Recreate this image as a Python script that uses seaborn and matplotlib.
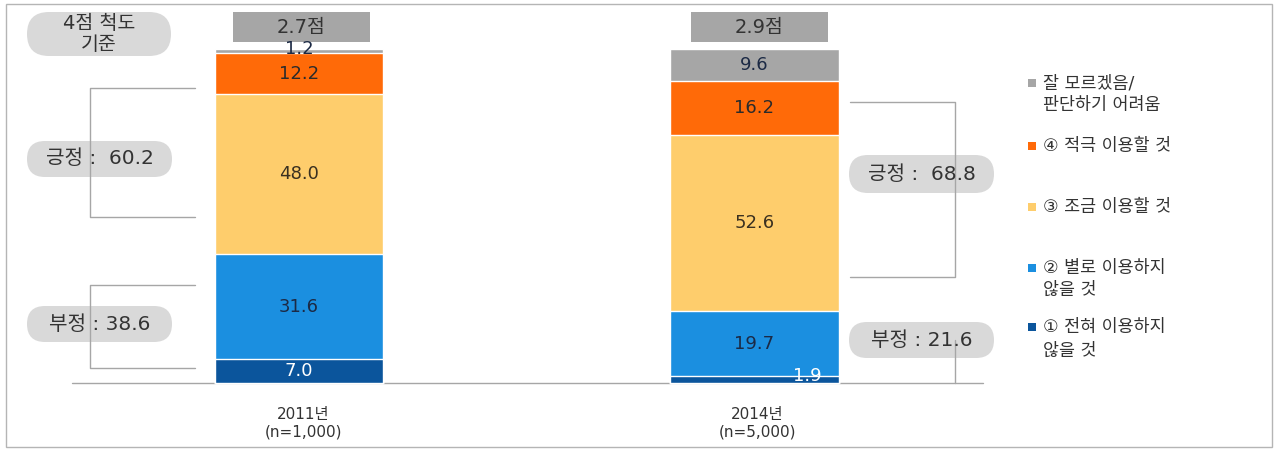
import numpy as np
import pandas as pd
import seaborn as sns
import matplotlib
matplotlib.use("Agg")
from matplotlib import pyplot as plt
from matplotlib.patches import FancyBboxPatch, Rectangle

# data
years = ["2011", "2014"]
year_labels = ["2011년\n(n=1,000)", "2014년\n(n=5,000)"]
categories = ["① 전혀 이용하지\n않을 것", "② 별로 이용하지\n않을 것", "③ 조금 이용할 것",
              "④ 적극 이용할 것", "잘 모르겠음/\n판단하기 어려움"]
v_none = [7.0, 1.9]
v_little = [31.6, 19.7]
v_some = [48.0, 52.6]
v_active = [12.2, 16.2]
v_unknown = [1.2, 9.6]
scores = ["2.7점", "2.9점"]
positive = [60.2, 68.8]
negative = [38.6, 21.6]

colors = ["#0b559c", "#1b8fe0", "#fecd6c", "#ff6a08", "#a6a6a6"]
label_colors = ["white", "#1c2a45", "#3a3020", "#2b2b2b", "#1c2a45"]

sns.set_theme(style="white")
plt.rcParams["font.family"] = ["DejaVu Sans", "Noto Sans CJK KR"]

values = np.array([v_none, v_little, v_some, v_active, v_unknown])
cum = np.cumsum(values, axis=0)

fig = plt.figure(figsize=(12.78, 4.5), dpi=100)

# decoration layer in pixel coordinates
deco = fig.add_axes([0, 0, 1, 1])
deco.set_xlim(0, 1278)
deco.set_ylim(450, 0)
deco.axis("off")

# data layer
ax = fig.add_axes([0, 0, 1, 1])
ax.patch.set_alpha(0)
for i in reversed(range(len(categories))):
    df = pd.DataFrame({"year": years, "cum": cum[i]})
    sns.barplot(data=df, x="year", y="cum", order=years, color=colors[i], saturation=1,
                width=0.369, edgecolor="white", linewidth=1, errorbar=None, ax=ax)

for j in range(len(years)):
    for i in range(len(categories)):
        val = values[i, j]
        x, y = j, cum[i, j] - val / 2
        if val < 3:
            if i == len(categories) - 1:
                y = cum[i, j]
            else:
                x, y = j + 0.116, cum[i, j]
        ax.text(x, y, f"{val:.1f}", ha="center", va="center", fontsize=13,
                color=label_colors[i])

ax.set_xlim((0 - 299) / 455.5, (1278 - 299) / 455.5)
ax.set_ylim(-67.3 / 3.334, (450 - 67.3) / 3.334)
ax.axis("off")

gray_line = "#a6a6a6"
text_col = "#333333"

# frame and baseline
deco.add_patch(Rectangle((6, 4), 1266, 443, fill=False, ec="#b5b5b5", lw=1))
deco.plot([72, 983], [383, 383], color=gray_line, lw=1)

# x labels
for cx, lab in zip([303, 757], year_labels):
    deco.text(cx, 423, lab, ha="center", va="center", fontsize=11, color=text_col,
              linespacing=1.2)

# score boxes
for x0, s in zip([233, 691], scores):
    deco.add_patch(Rectangle((x0, 12), 137, 30, fc="#a6a6a6", ec="none"))
    deco.text(x0 + 68.5, 27, s, ha="center", va="center", fontsize=14, color=text_col)


def pill(x0, y0, w, h, text, size=14.5, ls=1.0):
    deco.add_patch(FancyBboxPatch((x0, y0), w, h,
                                  boxstyle=f"round,pad=0,rounding_size={h / 2}",
                                  fc="#d9d9d9", ec="none"))
    deco.text(x0 + w / 2, y0 + h / 2, text, ha="center", va="center", fontsize=size,
              color=text_col, linespacing=ls)


pill(27, 12, 144, 44, "4점 척도\n기준", size=14, ls=1.1)

# brackets 2011
deco.plot([195, 90, 90, 195], [88, 88, 217, 217], color=gray_line, lw=1)
deco.plot([195, 90, 90, 195], [285, 285, 368, 368], color=gray_line, lw=1)
pill(27, 141, 145, 36, f"긍정 :  {positive[0]:.1f}")
pill(27, 306, 145, 36, f"부정 : {negative[0]:.1f}")

# brackets 2014
deco.plot([850, 955, 955, 850], [102, 102, 277, 277], color=gray_line, lw=1)
deco.plot([955, 955], [340, 383], color=gray_line, lw=1)
pill(849, 155, 145, 38, f"긍정 :  {positive[1]:.1f}")
pill(849, 322, 145, 36, f"부정 : {negative[1]:.1f}")

# legend
legend_rows = [(4, [83, 105]), (3, [146]), (2, [207]), (1, [268, 290]), (0, [327, 351])]
for i, ys in legend_rows:
    deco.add_patch(Rectangle((1028, ys[0] - 4), 8, 8, fc=colors[i], ec="none"))
    for line, yy in zip(categories[i].split("\n"), ys):
        deco.text(1043, yy, line, ha="left", va="center", fontsize=12.5, color=text_col)

fig.savefig("out.png", dpi=100)
